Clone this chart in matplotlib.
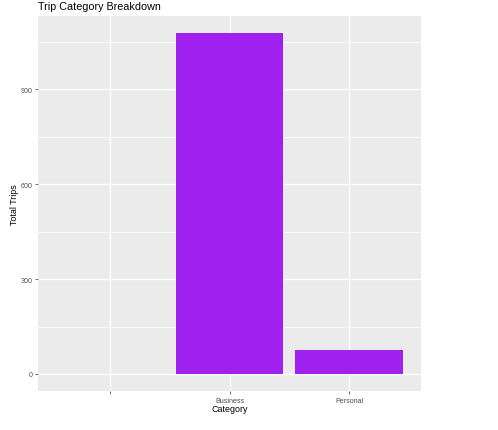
import matplotlib
matplotlib.use("Agg")
import matplotlib.pyplot as plt
from matplotlib.ticker import FixedLocator

plt.rcParams['font.family'] = ['Liberation Sans', 'DejaVu Sans']

# data
categories = ["", "Business", "Personal"]
trips = [1, 1078, 77]
y_ticks = [0, 300, 600, 900]
y_minor = [150, 450, 750, 1050]

W, H = 498, 431
fig = plt.figure(figsize=(W / 100, H / 100), dpi=100)
# panel in pixel coords: x 38..421, y 17..392
left, right, top, bottom = 38, 421, 17, 392
ax = fig.add_axes([left / W, 1 - bottom / H, (right - left) / W, (bottom - top) / H])

ax.set_facecolor("#EBEBEB")
for s in ax.spines.values():
    s.set_visible(False)

xpos = list(range(1, len(categories) + 1))
ax.bar(xpos, trips, width=0.9, color="#A020F0", zorder=3)

ymax = max(trips)
ax.set_xlim(0.4, len(categories) + 0.6)
ax.set_ylim(-0.05 * ymax, 1.05 * ymax)

ax.set_xticks(xpos)
ax.set_xticklabels(categories)
ax.set_yticks(y_ticks)
ax.yaxis.set_minor_locator(FixedLocator(y_minor))

ax.grid(which="major", color="white", linewidth=1.0, zorder=0)
ax.grid(which="minor", axis="y", color="white", linewidth=0.5, zorder=0)
ax.set_axisbelow(True)

ax.tick_params(axis="both", which="major", length=2, width=0.5, color="#333333",
               labelsize=5.1, labelcolor="#4D4D4D", pad=2)
ax.tick_params(axis="y", which="minor", length=0)

ax.set_xlabel("Category", fontsize=6.4, color="black")
ax.set_ylabel("Total Trips", fontsize=6.4, color="black")
ax.xaxis.set_label_coords(0.5, -(410 - bottom) / (bottom - top), transform=ax.transAxes)
ax.yaxis.set_label_coords(-(left - 14) / (right - left), 0.5, transform=ax.transAxes)
ax.xaxis.label.set_va("center")
ax.yaxis.label.set_va("center")
fig.text(left / W, 1 - 7.5 / H, "Trip Category Breakdown", fontsize=7.75,
         ha="left", va="center")

fig.savefig("out.png", dpi=100)
